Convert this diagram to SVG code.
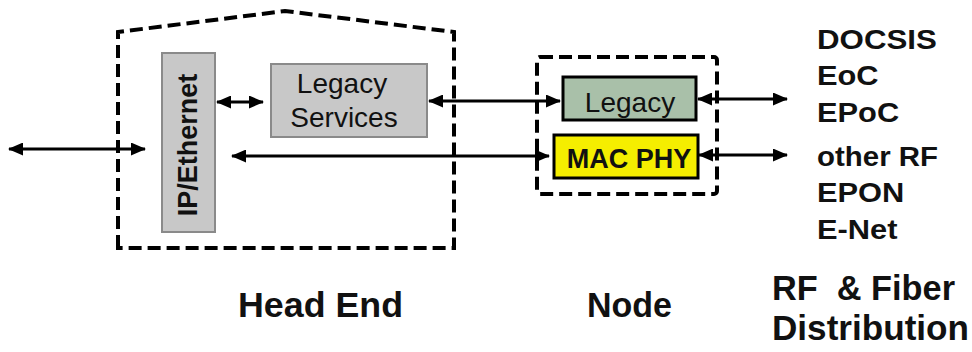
<svg xmlns="http://www.w3.org/2000/svg" width="972" height="352" viewBox="0 0 972 352">
<style>
  .dash { fill: none; stroke: #000; stroke-width: 4; stroke-dasharray: 13 6; }
  .gray { fill: #c8c8c8; stroke: #8a8a8a; stroke-width: 2; }
  .conn { stroke: #000; stroke-width: 3; fill: none; marker-start: url(#ah); marker-end: url(#ah); }
  .t { font-family: "Liberation Sans", Arial, sans-serif; fill: #111; }
  .b { font-weight: bold; }
</style>
<defs>
  <marker id="ah" markerUnits="userSpaceOnUse" markerWidth="15" markerHeight="13" refX="14" refY="6.5" orient="auto-start-reverse">
    <path d="M0,0 L15,6.5 L0,13 z" fill="#000"/>
  </marker>
</defs>
<rect width="972" height="352" fill="#fff"/>

<g id="head-end">
  <polygon class="dash" points="118,248 118,32 285,11 454,32 454,248"/>
  <text class="t b" x="238" y="317" font-size="35" textLength="165" lengthAdjust="spacingAndGlyphs">Head End</text>
</g>

<g id="ip-ethernet">
  <rect class="gray" x="162" y="53" width="53" height="179"/>
  <text class="t b" font-size="27" text-anchor="middle" transform="translate(197,145) rotate(-90)">IP/Ethernet</text>
</g>

<g id="legacy-services">
  <rect class="gray" x="271" y="64" width="156" height="73"/>
  <text class="t" x="342" y="93" font-size="28" text-anchor="middle">Legacy</text>
  <text class="t" x="344" y="127" font-size="28" text-anchor="middle">Services</text>
</g>

<g id="node">
  <rect class="dash" x="537" y="57" width="180" height="137" rx="3"/>
  <text class="t b" x="587" y="317" font-size="35" textLength="85" lengthAdjust="spacingAndGlyphs">Node</text>
</g>

<g id="legacy">
  <rect x="563" y="77" width="133" height="43" fill="#a9c0a9" stroke="#000" stroke-width="3"/>
  <text class="t" x="630" y="112" font-size="28" text-anchor="middle">Legacy</text>
</g>

<g id="mac-phy">
  <rect x="554" y="135" width="144" height="43" fill="#f5ee00" stroke="#000" stroke-width="3"/>
  <text class="t b" x="629" y="168" font-size="27" text-anchor="middle">MAC PHY</text>
</g>

<g id="distribution">
  <g transform="translate(817,0) scale(1.1,1)">
    <text class="t b" x="0" y="49" font-size="28" textLength="109" lengthAdjust="spacingAndGlyphs">DOCSIS</text>
    <text class="t b" x="0" y="85" font-size="28">EoC</text>
    <text class="t b" x="0" y="122" font-size="28">EPoC</text>
    <text class="t b" x="0" y="166" font-size="28" textLength="110" lengthAdjust="spacingAndGlyphs">other RF</text>
    <text class="t b" x="0" y="202" font-size="28">EPON</text>
    <text class="t b" x="0" y="239" font-size="28">E-Net</text>
  </g>
  <text class="t b" x="772" y="300" font-size="35" xml:space="preserve" textLength="183" lengthAdjust="spacingAndGlyphs">RF  &amp; Fiber</text>
  <text class="t b" x="772" y="340" font-size="35" textLength="197" lengthAdjust="spacingAndGlyphs">Distribution</text>
</g>

<g id="connectors">
  <line class="conn" x1="9" y1="149" x2="145" y2="149"/>
  <line class="conn" x1="217" y1="102" x2="263" y2="102"/>
  <line class="conn" x1="429" y1="101" x2="560" y2="101"/>
  <line class="conn" x1="232" y1="156" x2="549" y2="156"/>
  <line class="conn" x1="698" y1="99" x2="787" y2="99"/>
  <line class="conn" x1="699" y1="155" x2="787" y2="155"/>
</g>
</svg>
